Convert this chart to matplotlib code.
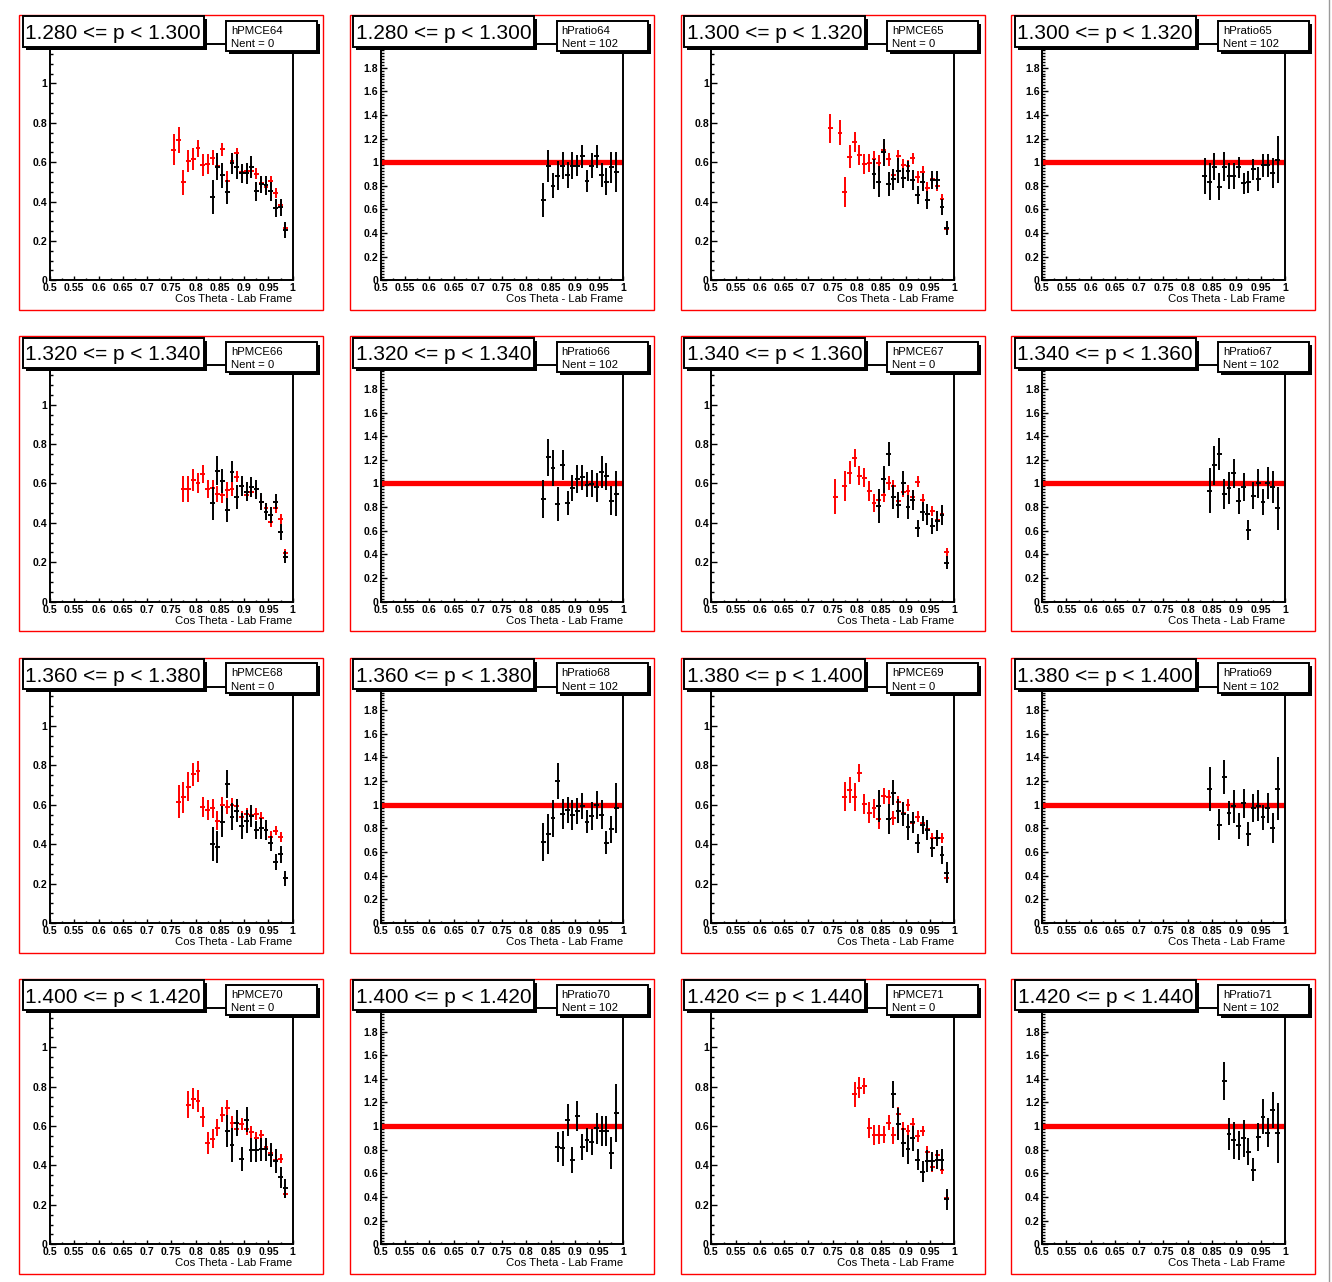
import matplotlib
matplotlib.use("Agg")
import matplotlib.pyplot as plt
from matplotlib.patches import Rectangle
from matplotlib.lines import Line2D
from matplotlib.ticker import MultipleLocator, FixedLocator, FixedFormatter
import numpy as np

plt.rcParams['font.family'] = ['Liberation Sans', 'DejaVu Sans']

N = None
# bin centres (cos theta, lab frame)
CENTERS = [0.745, 0.755, 0.765, 0.775, 0.785, 0.795, 0.805, 0.815, 0.825, 0.835,
           0.845, 0.855, 0.865, 0.875, 0.885, 0.895, 0.905, 0.915, 0.925, 0.935,
           0.945, 0.955, 0.965, 0.975, 0.985]
BLK_CENTERS = [0.835, 0.845, 0.855, 0.865, 0.875, 0.885, 0.895, 0.905, 0.915, 0.925,
               0.935, 0.945, 0.955, 0.965, 0.975, 0.985]

TITLES = ["1.280 <= p < 1.300", "1.300 <= p < 1.320", "1.320 <= p < 1.340",
          "1.340 <= p < 1.360", "1.360 <= p < 1.380", "1.380 <= p < 1.400",
          "1.400 <= p < 1.420", "1.420 <= p < 1.440"]
HIST_IDS = [64, 65, 66, 67, 68, 69, 70, 71]
NENT_PMCE = 0
NENT_RATIO = 102
RATIO_REF = 1.0

# ---- hPMCE64 / hPratio64
RED_64 = [N, .663, .712, .497, .607, .616, .670, .587, .590, .623, .582, .665, .506, .604, .645, .550, .553, .557, .540, .496, .475, .504, .442, .384, .267]
RED_ERR_64 = [N, .08, .066, .065, .055, .055, .044, .056, .05, .038, .045, .034, .048, .03, .025, .03, .03, .03, .028, .028, .025, .028, .025, .025, .02]
BLK_64 = [.421, .577, .533, .448, .594, .577, .543, .543, .574, .452, .487, .482, .452, .367, .370, .255]
BLK_ERR_64 = [.086, .068, .065, .062, .055, .063, .047, .055, .055, .047, .045, .047, .047, .044, .044, .04]
RAT_64 = [.679, .97, .80, .887, .97, .892, .97, .97, 1.048, .841, .97, 1.048, .892, .835, .955, .915]
RAT_ERR_64 = [.145, .135, .106, .12, .113, .113, .116, .09, .1, .096, .106, .1, .1, .113, .128, .17]

# ---- 65
RED_65 = [.771, N, .750, .450, .628, .704, .636, .590, .594, .614, .597, .660, .614, .535, .631, .585, .580, .619, .523, .552, .467, .512, .479, .411, .259]
RED_ERR_65 = [.073, N, .064, .076, .057, .05, .05, .05, .045, .045, .04, .035, .035, .03, .03, .03, .03, .03, .03, .03, .03, .028, .028, .025, .02]
BLK_65 = [.540, .501, .650, .489, .512, .556, .521, .556, .509, .433, .501, .408, .509, .509, .374, .264]
BLK_ERR_65 = [.076, .079, .07, .063, .055, .063, .05, .05, .05, .045, .045, .045, .045, .045, .04, .035]
RAT_65 = [.884, .835, .963, .793, .963, .884, .884, .955, .821, .833, .94, .858, .972, .972, .906, 1.02]
RAT_ERR_65 = [.15, .156, .113, .113, .12, .11, .11, .088, .09, .09, .09, .1, .1, .1, .128, .2]

# ---- 66
RED_66 = [N, N, N, .572, .572, .618, .601, .648, .572, .575, .547, .542, .567, .570, .635, .587, .542, .559, .570, .508, .474, .406, .474, .418, .245]
RED_ERR_66 = [N, N, N, .065, .065, .057, .05, .047, .047, .045, .04, .04, .04, .035, .03, .03, .03, .03, .03, .03, .028, .028, .025, .025, .02]
BLK_66 = [.499, .665, .612, .465, .660, .530, .587, .559, .581, .570, .508, .457, .440, .508, .355, .228]
BLK_ERR_66 = [.085, .074, .063, .063, .055, .062, .05, .05, .05, .05, .045, .045, .04, .04, .04, .03]
RAT_66 = [.867, 1.221, 1.13, .827, 1.153, .833, .96, 1.04, 1.054, .989, .997, .966, 1.094, 1.06, .855, .912]
RAT_ERR_66 = [.163, .159, .15, .145, .128, .104, .11, .12, .106, .104, .113, .12, .136, .116, .123, .19]

# ---- 67
RED_67 = [N, .533, N, .587, .655, .731, .640, .630, .562, .499, .516, .542, .604, .589, .513, .559, .564, .530, .609, .516, .443, .462, .415, .443, .254]
RED_ERR_67 = [N, .089, N, .076, .06, .046, .05, .047, .05, .045, .04, .035, .035, .03, .03, .03, .03, .03, .028, .028, .028, .025, .025, .025, .02]
BLK_67 = [N, .486, .621, .748, .530, .491, .601, .479, .516, .372, .457, .443, .384, .411, .440, .198]
BLK_ERR_67 = [N, .085, .068, .061, .06, .068, .06, .06, .052, .042, .05, .055, .04, .05, .05, .034]
RAT_67 = [N, .94, 1.153, 1.25, .909, .96, 1.088, .855, .969, .606, .898, 1.003, .841, 1.003, .969, .79]
RAT_ERR_67 = [N, .187, .167, .133, .125, .135, .123, .11, .118, .082, .118, .123, .11, .132, .135, .184]

# ---- 68
RED_68 = [N, N, .616, .638, .692, .755, .771, .590, .574, .582, .520, .600, .590, .599, .594, .537, .552, .549, .554, .531, .472, .438, .469, .438, .230]
RED_ERR_68 = [N, N, .082, .08, .074, .059, .053, .05, .05, .048, .047, .04, .035, .035, .035, .03, .03, .03, .03, .03, .028, .028, .025, .025, .02]
BLK_68 = [.401, .387, .514, .704, .540, .570, .492, .517, .543, .472, .480, .472, .404, .311, .349, .227]
BLK_ERR_68 = [.087, .081, .08, .07, .068, .058, .066, .058, .057, .045, .055, .05, .038, .04, .044, .038]
RAT_68 = [.688, .753, .887, 1.199, .923, .957, .915, .949, .986, .858, .906, 1.0, .915, .679, .793, .972]
RAT_ERR_68 = [.16, .167, .156, .153, .128, .11, .128, .11, .11, .096, .118, .118, .122, .095, .113, .213]

# ---- 69
RED_69 = [N, N, N, .641, .675, .641, .760, .604, .560, .582, .526, .645, .638, .531, .616, .560, .599, .509, .540, .506, .475, .430, .430, .430, .227]
RED_ERR_69 = [N, N, N, .074, .066, .071, .047, .05, .052, .047, .05, .042, .038, .035, .03, .03, .03, .03, .028, .028, .028, .025, .025, .025, .02]
BLK_69 = [N, .594, N, .526, .661, .569, .553, .489, .511, .404, .497, .472, .382, .430, .345, .255]
BLK_ERR_69 = [N, .08, N, .076, .064, .06, .062, .066, .053, .047, .048, .05, .047, .042, .046, .052]
RAT_69 = [N, 1.133, N, .830, 1.235, .929, .986, .821, 1.014, .750, .972, .991, .895, .972, .801, 1.136]
RAT_ERR_69 = [N, .184, N, .13, .146, .104, .138, .11, .123, .102, .12, .132, .105, .125, .125, .267]

# ---- 70
RED_70 = [N, N, N, N, .709, .739, .728, .646, .514, .536, .592, .658, .692, .616, .587, .612, .587, .570, .540, .553, .494, .464, .430, .435, .257]
RED_ERR_70 = [N, N, N, N, .068, .053, .055, .049, .054, .048, .042, .038, .038, .035, .03, .03, .03, .03, .028, .028, .028, .025, .025, .025, .02]
BLK_70 = [N, N, N, .574, .503, .616, .435, .633, .477, .477, .481, .481, .452, .421, .339, .283]
BLK_ERR_70 = [N, N, N, .08, .085, .066, .061, .065, .061, .058, .058, .058, .06, .06, .055, .05]
RAT_70 = [N, N, N, .824, .810, 1.051, .711, 1.085, .824, .881, .867, .980, .960, .960, .773, 1.113]
RAT_ERR_70 = [N, N, N, .128, .15, .136, .108, .128, .11, .104, .11, .132, .128, .128, .138, .245]

# ---- 71
RED_71 = [N, N, N, N, N, .761, .795, .804, .590, .553, .557, .557, .616, .553, .660, .584, .574, .609, .548, .575, .469, .390, .452, .379, .237]
RED_ERR_71 = [N, N, N, N, N, .063, .052, .041, .053, .05, .05, .044, .038, .042, .036, .035, .03, .03, .03, .025, .03, .025, .025, .025, .02]
BLK_71 = [N, N, N, N, .761, .612, .515, .481, .537, .430, .367, .423, .421, .430, .430, .227]
BLK_ERR_71 = [N, N, N, N, .068, .081, .074, .073, .065, .055, .053, .055, .047, .049, .055, .055]
RAT_71 = [N, N, N, N, 1.383, .932, .881, .838, .895, .782, .631, .909, 1.079, .943, 1.136, .943]
RAT_ERR_71 = [N, N, N, N, .159, .135, .156, .122, .153, .113, .098, .119, .147, .123, .152, .252]

RED = [RED_64, RED_65, RED_66, RED_67, RED_68, RED_69, RED_70, RED_71]
RED_ERR = [RED_ERR_64, RED_ERR_65, RED_ERR_66, RED_ERR_67, RED_ERR_68, RED_ERR_69, RED_ERR_70, RED_ERR_71]
BLK = [BLK_64, BLK_65, BLK_66, BLK_67, BLK_68, BLK_69, BLK_70, BLK_71]
BLK_ERR = [BLK_ERR_64, BLK_ERR_65, BLK_ERR_66, BLK_ERR_67, BLK_ERR_68, BLK_ERR_69, BLK_ERR_70, BLK_ERR_71]
RAT = [RAT_64, RAT_65, RAT_66, RAT_67, RAT_68, RAT_69, RAT_70, RAT_71]
RAT_ERR = [RAT_ERR_64, RAT_ERR_65, RAT_ERR_66, RAT_ERR_67, RAT_ERR_68, RAT_ERR_69, RAT_ERR_70, RAT_ERR_71]

# ------------------------------------------------------------------ layout
FW, FH = 1332, 1282
fig = plt.figure(figsize=(FW / 100, FH / 100), dpi=100)
fig.patch.set_facecolor('white')


def rect_px(x, y, w, h, **kw):
    r = Rectangle((x / FW, 1 - (y + h) / FH), w / FW, h / FH,
                  transform=fig.transFigure, **kw)
    fig.add_artist(r)


def text_px(x, y, s, **kw):
    fig.text(x / FW, 1 - y / FH, s, **kw)


def series(xs, ys, es):
    px, py, pe = [], [], []
    for x, y, e in zip(xs, ys, es):
        if y is not None:
            px.append(x)
            py.append(y)
            pe.append(e)
    return px, py, pe


XT = [0.5, 0.55, 0.6, 0.65, 0.7, 0.75, 0.8, 0.85, 0.9, 0.95, 1.0]
XT_LAB = ['0.5', '0.55', '0.6', '0.65', '0.7', '0.75', '0.8', '0.85', '0.9', '0.95', '1']

for k in range(16):
    row, col = k // 4, k % 4
    h = row * 2 + col // 2
    is_ratio = (col % 2 == 1)
    fx = 19.3 + col * 330.7
    fy = 15.0 + row * 321.3

    # pad frame
    rect_px(fx, fy, 304, 295, fill=False, edgecolor='#ff0000', lw=1.0, zorder=1)

    ax = fig.add_axes([(fx + 30.7) / FW, 1 - (fy + 265.3) / FH, 242.7 / FW, 236.3 / FH])
    ax.set_facecolor('white')
    ax.set_xlim(0.5, 1.0)

    if is_ratio:
        ax.set_ylim(0, 2.0)
        # top tick (2) is hidden under the title box in the reference
        yt = [0, 0.2, 0.4, 0.6, 0.8, 1.0, 1.2, 1.4, 1.6, 1.8, 2.0]
        ylab = ['0', '0.2', '0.4', '0.6', '0.8', '1', '1.2', '1.4', '1.6', '1.8', '']
        ax.yaxis.set_minor_locator(MultipleLocator(0.025))
        ax.plot([0.5, 1.0], [RATIO_REF, RATIO_REF], color='#ff0000', lw=3.8,
                solid_capstyle='butt', zorder=2)
        x, y, e = series(BLK_CENTERS, RAT[h], RAT_ERR[h])
        ax.errorbar(x, y, yerr=e, xerr=0.005, fmt='none', ecolor='black',
                    elinewidth=1.4, capsize=0, zorder=3)
        name = "hPratio%d" % HIST_IDS[h]
        nent = NENT_RATIO
    else:
        ax.set_ylim(0, 1.2)
        yt = [0, 0.2, 0.4, 0.6, 0.8, 1.0, 1.2]
        ylab = ['0', '0.2', '0.4', '0.6', '0.8', '1', '']
        ax.yaxis.set_minor_locator(MultipleLocator(0.05))
        x, y, e = series(CENTERS, RED[h], RED_ERR[h])
        ax.errorbar(x, y, yerr=e, xerr=0.005, fmt='none', ecolor='#ff0000',
                    elinewidth=1.4, capsize=0, zorder=2)
        x, y, e = series(BLK_CENTERS, BLK[h], BLK_ERR[h])
        ax.errorbar(x, y, yerr=e, xerr=0.005, fmt='none', ecolor='black',
                    elinewidth=1.4, capsize=0, zorder=3)
        name = "hPMCE%d" % HIST_IDS[h]
        nent = NENT_PMCE

    ax.xaxis.set_major_locator(FixedLocator(XT))
    ax.xaxis.set_major_formatter(FixedFormatter(XT_LAB))
    ax.xaxis.set_minor_locator(MultipleLocator(0.025))
    ax.yaxis.set_major_locator(FixedLocator(yt))
    ax.yaxis.set_major_formatter(FixedFormatter(ylab))

    ax.tick_params(which='both', direction='in', top=False, right=False, width=1.0,
                   labelsize=7.6, colors='black')
    ax.tick_params(axis='y', which='major', length=4.0, pad=1.8)
    ax.tick_params(axis='y', which='minor', length=2.0)
    ax.tick_params(axis='x', which='major', length=2.8, pad=2.2)
    ax.tick_params(axis='x', which='minor', length=1.8)
    for lab in ax.get_xticklabels() + ax.get_yticklabels():
        lab.set_fontweight('bold')
    for sp in ax.spines.values():
        sp.set_linewidth(1.4)
        sp.set_color('black')

    # axis title
    text_px(fx + 273.4, fy + 279.5, "Cos Theta - Lab Frame", ha='right', va='top',
            fontsize=8.2, color='black')

    # title box with shadow
    rect_px(fx + 3.4 + 3, fy + 1.5 + 3, 181, 30, facecolor='black', lw=0, zorder=5)
    rect_px(fx + 3.4, fy + 1.5, 181, 30, facecolor='white', edgecolor='black',
            lw=1.4, zorder=6)
    text_px(fx + 3.4 + 90.5, fy + 1.5 + 17.0, TITLES[h], ha='center', va='center',
            fontsize=15, color='black', zorder=7)

    # stats box with shadow
    sx, sy = fx + 206.5, fy + 5.7
    rect_px(sx + 3, sy + 3, 91, 30, facecolor='black', lw=0, zorder=5)
    rect_px(sx, sy, 91, 30, facecolor='white', edgecolor='black', lw=1.4, zorder=6)
    text_px(sx + 5, sy + 10.0, name, ha='left', va='center', fontsize=8.2, zorder=7)
    text_px(sx + 5, sy + 23.5, "Nent = %d" % nent, ha='left', va='center',
            fontsize=8.2, zorder=7)

# right-hand canvas border
fig.add_artist(Line2D([1328.5 / FW, 1328.5 / FW], [0, 1], transform=fig.transFigure,
                      color='#9a9a9a', lw=1.0))

fig.savefig('out.png', dpi=100, facecolor='white')
